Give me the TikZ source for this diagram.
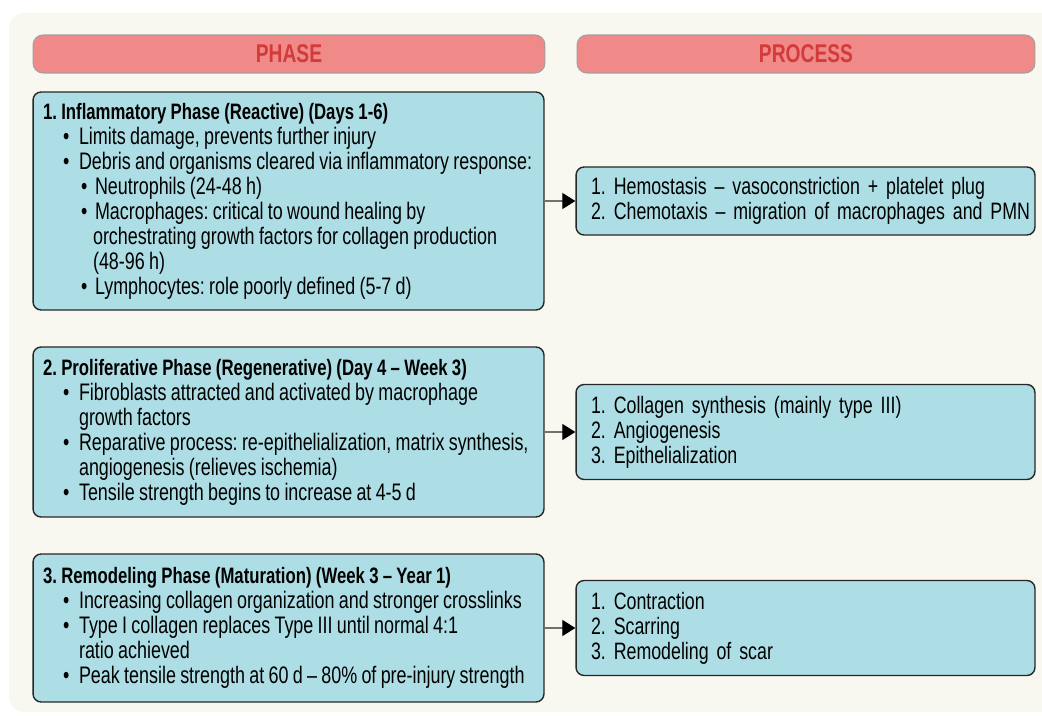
\documentclass[tikz,border=0pt]{standalone}
\usepackage{fontspec}
\setmainfont{Liberation Sans}[FakeStretch=0.75]
\usetikzlibrary{arrows.meta}

\definecolor{bgcream}{HTML}{F8F8F1}
\definecolor{headfill}{HTML}{F08A88}
\definecolor{headtext}{HTML}{D33A3A}
\definecolor{boxfill}{HTML}{ADDEE5}
\definecolor{linegray}{HTML}{707070}

% lines inside the phase boxes
\newcommand{\ptitle}[1]{\mbox{\fontsize{12.7}{14.23}\selectfont\bfseries #1}}
\newcommand{\bitem}[1]{\makebox[0.72cm][l]{\hspace*{0.4cm}\textbullet}\mbox{#1}}
\newcommand{\bcont}[1]{\hspace*{0.72cm}\mbox{#1}}
\newcommand{\sitem}[1]{\makebox[1.04cm][l]{\hspace*{0.76cm}\textbullet}\mbox{#1}}
\newcommand{\scont}[1]{\hspace*{1.0cm}\mbox{#1}}
\newcommand{\tightsp}{\spaceskip=2.45pt plus 0.5pt minus 0.3pt\relax}

\frenchspacing
\begin{document}
\begin{tikzpicture}[x=0.02cm,y=-0.02cm,
    header/.style={draw=gray!75,line width=0.6pt,fill=headfill,rounded corners=0.2cm,
      minimum height=0.76cm,text=headtext,font=\fontsize{14.6}{16}\selectfont\bfseries},
    phasebox/.style={draw=black!85,line width=0.8pt,fill=boxfill,rounded corners=0.16cm,
      text width=9.82cm,inner xsep=0.2cm,minimum width=10.22cm,align=left,
      font=\fontsize{13.6}{14.23}\selectfont,execute at begin node=\tightsp},
    procbox/.style={draw=black!85,line width=0.8pt,fill=boxfill,rounded corners=0.16cm,
      text width=8.58cm,inner xsep=0.3cm,minimum width=9.18cm,align=left,
      font=\fontsize{13.5}{14.23}\selectfont},
    conn/.style={draw=linegray,line width=0.7pt,
      -{Triangle[length=0.26cm,width=0.32cm,color=black,fill=black]}}]
  \useasboundingbox (0,0) rectangle (1042,716);
  \clip (0,0) rectangle (1042,716);
  \fill[bgcream,rounded corners=0.3cm] (9,13) rectangle (1070,712);

  % column headers
  \node[header,minimum width=10.24cm] (hphase) at (289,54) {PHASE\hspace{0.56cm}};
  \node[header,minimum width=9.16cm] (hproc) at (806,54) {PROCESS};

  % phases
  \node[phasebox,minimum height=4.36cm] (ph1) at (288.5,201) {%
    \ptitle{1. Inflammatory Phase (Reactive) (Days 1-6)}\\
    \bitem{Limits damage, prevents further injury}\\
    \bitem{Debris and organisms cleared via inflammatory response:}\\
    \sitem{Neutrophils (24-48 h)}\\
    \sitem{Macrophages: critical to wound healing by}\\
    \scont{orchestrating growth factors for collagen production}\\
    \scont{(48-96 h)}\\
    \sitem{Lymphocytes: role poorly defined (5-7 d)}};
  \node[phasebox,minimum height=3.4cm] (ph2) at (288.5,432) {%
    \ptitle{2. Proliferative Phase (Regenerative) (Day 4 – Week 3)}\\
    \bitem{Fibroblasts attracted and activated by macrophage}\\
    \bcont{growth factors}\\
    \bitem{Reparative process: re-epithelialization, matrix synthesis,}\\
    \bcont{angiogenesis (relieves ischemia)}\\
    \bitem{Tensile strength begins to increase at 4-5 d}};
  \node[phasebox,minimum height=2.96cm] (ph3) at (288.5,628) {%
    \ptitle{3. Remodeling Phase (Maturation) (Week 3 – Year 1)}\\
    \bitem{Increasing collagen organization and stronger crosslinks}\\
    \bitem{Type I collagen replaces Type III until normal 4:1}\\
    \bcont{ratio achieved}\\
    \bitem{Peak tensile strength at 60 d – 80\% of pre-injury strength}};

  % processes
  \node[procbox,minimum height=1.36cm] (pr1) at (805.5,201) {%
    \mbox{1. Hemostasis – vasoconstriction + platelet plug}\\
    \mbox{2. Chemotaxis – migration of macrophages and PMN}};
  \node[procbox,minimum height=1.9cm] (pr2) at (805.5,432) {%
    1. Collagen synthesis (mainly type III)\\
    2. Angiogenesis\\
    3. Epithelialization};
  \node[procbox,minimum height=1.9cm] (pr3) at (805.5,628) {%
    1. Contraction\\
    2. Scarring\\
    3. Remodeling of scar};

  \draw[conn] (ph1.east) -- (pr1.west);
  \draw[conn] (ph2.east) -- (pr2.west);
  \draw[conn] (ph3.east) -- (pr3.west);
\end{tikzpicture}
\end{document}
